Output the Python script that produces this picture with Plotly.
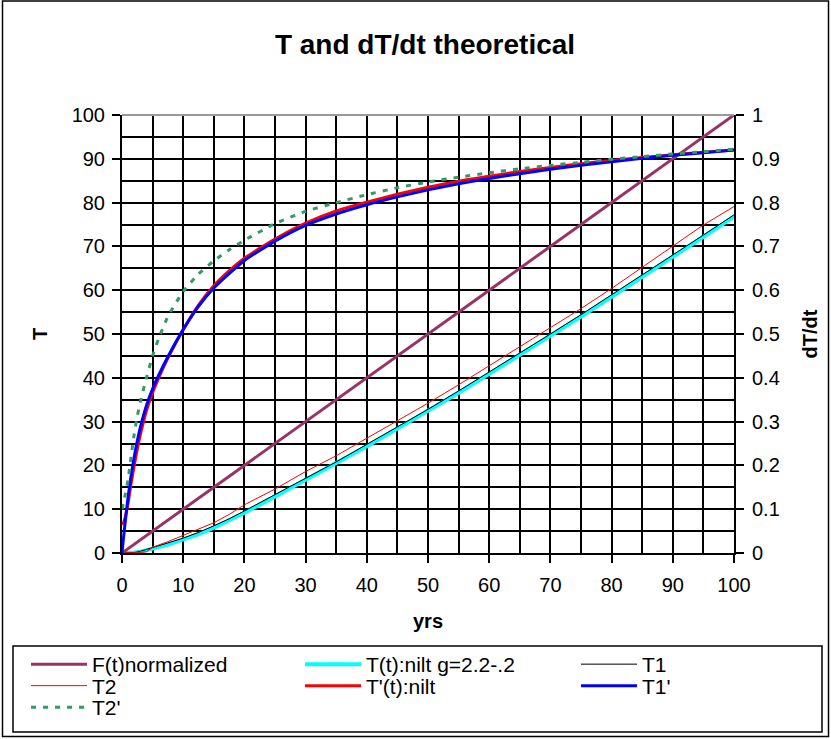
import plotly.graph_objects as go

# ---- data ----
t_F = [0, 10, 20, 30, 40, 50, 60, 70, 80, 90, 100]
F_norm = [0.0, 0.10, 0.20, 0.30, 0.40, 0.50, 0.60, 0.70, 0.80, 0.90, 1.00]

t_low = [0, 1, 2, 3, 4, 5, 7.5, 10, 12.5, 15, 17.5, 20, 25, 30, 35, 40, 45, 50,
         55, 60, 65, 70, 75, 80, 85, 90, 95, 100]
T_nilt = [0, 0, 0.1, 0.3, 0.6, 1.0, 1.9, 3.0, 4.3, 5.8, 7.4, 9.2, 12.9, 16.7, 20.4,
          24.4, 28.4, 32.4, 36.6, 40.9, 45.2, 49.6, 54.0, 58.5, 63.0, 67.6, 72.2, 76.8]
T1 = [0, 0, 0.1, 0.4, 0.8, 1.3, 2.3, 3.4, 4.7, 6.2, 7.8, 9.6, 13.3, 17.1, 20.8,
      24.8, 28.8, 32.8, 37.0, 41.3, 45.6, 50.0, 54.4, 58.9, 63.4, 68.0, 72.6, 77.2]
T2 = [0, 0, 0, 0.1, 0.3, 1.3, 2.6, 4.0, 5.4, 6.9, 8.8, 11.0, 14.6, 18.6, 22.2,
      26.2, 30.1, 34.2, 38.4, 42.7, 47.0, 51.4, 55.8, 60.4, 65.2, 70.0, 74.9, 79.1]

t_d = [0, 0.25, 0.5, 1, 1.5, 2, 2.5, 3, 4, 5, 6, 7.5, 10, 12.5, 15, 17.5, 20, 25,
       30, 35, 40, 45, 50, 55, 60, 65, 70, 75, 80, 85, 90, 95, 100]
dT_nilt = [0.065, 0.07, 0.08, 0.115, 0.16, 0.20, 0.237, 0.27, 0.325, 0.366, 0.40,
           0.445, 0.51, 0.566, 0.61, 0.644, 0.673, 0.717, 0.753, 0.781, 0.801, 0.819,
           0.835, 0.849, 0.86, 0.871, 0.88, 0.889, 0.896, 0.903, 0.909, 0.915, 0.92]
dT1 = [0.0, 0.035, 0.068, 0.128, 0.178, 0.22, 0.256, 0.287, 0.337, 0.375, 0.406,
       0.448, 0.51, 0.563, 0.605, 0.638, 0.668, 0.712, 0.748, 0.774, 0.795, 0.813,
       0.829, 0.843, 0.855, 0.866, 0.876, 0.885, 0.893, 0.901, 0.908, 0.914, 0.92]
dT2 = [0.10, 0.115, 0.132, 0.168, 0.222, 0.272, 0.312, 0.345, 0.40, 0.45, 0.49,
       0.54, 0.597, 0.637, 0.667, 0.692, 0.714, 0.752, 0.78, 0.80, 0.818, 0.834,
       0.847, 0.858, 0.868, 0.877, 0.885, 0.892, 0.899, 0.905, 0.911, 0.916, 0.922]

FONT = "Liberation Sans, Arial, sans-serif"

W, H = 831, 739
L, R, T, B = 122, 97, 115, 186
pw, ph = W - L - R, H - T - B


def px(x):
    return (x - L) / pw


def py(y):
    return (H - B - y) / ph


LEG_FS = 21
ROW_Y = [662, 683.5, 705]
COL_X = [26, 300, 576]


def leg(col, row):
    return dict(orientation="v", x=px(COL_X[col]), xanchor="left",
                y=py(ROW_Y[row] - 18), yanchor="top",
                font=dict(family=FONT, size=LEG_FS, color="black"), itemwidth=56,
                bgcolor="rgba(0,0,0,0)", borderwidth=0)


fig = go.Figure()
fig.add_trace(go.Scatter(x=t_F, y=F_norm, name="F(t)normalized", yaxis="y2",
                         legend="legend",
                         mode="lines", line=dict(color="#993366", width=3)))
fig.add_trace(go.Scatter(x=t_low, y=T_nilt, name="T(t):nilt g=2.2-.2",
                         legend="legend2",
                         mode="lines", line=dict(color="#00FFFF", width=4)))
fig.add_trace(go.Scatter(x=t_low, y=T1, name="T1",
                         legend="legend3",
                         mode="lines", line=dict(color="#000000", width=1)))
fig.add_trace(go.Scatter(x=t_low, y=T2, name="T2",
                         legend="legend4",
                         mode="lines", line=dict(color="#FF0000", width=1)))
fig.add_trace(go.Scatter(x=t_d, y=dT_nilt, name="T'(t):nilt", yaxis="y2",
                         legend="legend5",
                         mode="lines", line=dict(color="#FF0000", width=3,
                                                 shape="spline", smoothing=0.5)))
fig.add_trace(go.Scatter(x=t_d, y=dT1, name="T1'", yaxis="y2",
                         legend="legend6",
                         mode="lines", line=dict(color="#0000FF", width=3,
                                                 shape="spline", smoothing=0.5)))
fig.add_trace(go.Scatter(x=t_d, y=dT2, name="T2'", yaxis="y2",
                         legend="legend7",
                         mode="lines", line=dict(color="#339966", width=3, dash="5px,7px",
                                                 shape="spline", smoothing=0.5)))

axis_common = dict(showline=True, linecolor="black", linewidth=2, ticks="outside",
                   ticklen=8, tickwidth=2, tickcolor="black", zeroline=False,
                   tickfont=dict(family=FONT, size=20, color="black"))

fig.update_layout(
    width=W, height=H,
    margin=dict(l=L, r=R, t=T, b=B, pad=0, autoexpand=False),
    paper_bgcolor="white", plot_bgcolor="white",
    font=dict(family=FONT, color="black"),
    title=dict(text="T and dT/dt theoretical", x=425 / W, xanchor="center",
               y=1 - 44 / H, yanchor="middle",
               font=dict(family=FONT, size=28, weight="bold", color="black")),
    xaxis=dict(range=[0, 100], dtick=10, tick0=0, showgrid=True, gridcolor="black",
               gridwidth=2, minor=dict(dtick=5, showgrid=True, gridcolor="black",
                                       gridwidth=2, ticks=""),
               ticklabelstandoff=5,
               title=dict(text="yrs", standoff=19,
                          font=dict(family=FONT, size=20, weight="bold")),
               **axis_common),
    yaxis=dict(range=[0, 100], dtick=10, tick0=0, showgrid=True, gridcolor="black",
               gridwidth=2, minor=dict(dtick=5, showgrid=True, gridcolor="black",
                                       gridwidth=2, ticks=""),
               ticklabelstandoff=3,
               title=dict(text="T", standoff=19,
                          font=dict(family=FONT, size=20, weight="bold")),
               **axis_common),
    yaxis2=dict(range=[0, 1], dtick=0.1, tick0=0, overlaying="y", side="right",
                showgrid=False, ticklabelstandoff=4,
                title=dict(text="dT/dt", standoff=24,
                           font=dict(family=FONT, size=20, weight="bold")),
                **axis_common),
    showlegend=True,
    legend=leg(0, 0), legend2=leg(1, 0), legend3=leg(2, 0),
    legend4=leg(0, 1), legend5=leg(1, 1), legend6=leg(2, 1),
    legend7=leg(0, 2),
    shapes=[
        dict(type="rect", xref="paper", yref="paper", x0=px(2.5), x1=px(828.5),
             y0=py(736.5), y1=py(1), line=dict(color="black", width=1.5)),
        dict(type="rect", xref="paper", yref="paper", x0=px(13), x1=px(822),
             y0=py(732), y1=py(646), line=dict(color="black", width=1.5)),
        dict(type="line", xref="paper", yref="paper", x0=0, x1=1, y0=1, y1=1,
             line=dict(color="#999999", width=2)),
    ],
)

fig.write_html("out.html", config={"displayModeBar": False},
               post_script="document.body.style.margin='0px';")
